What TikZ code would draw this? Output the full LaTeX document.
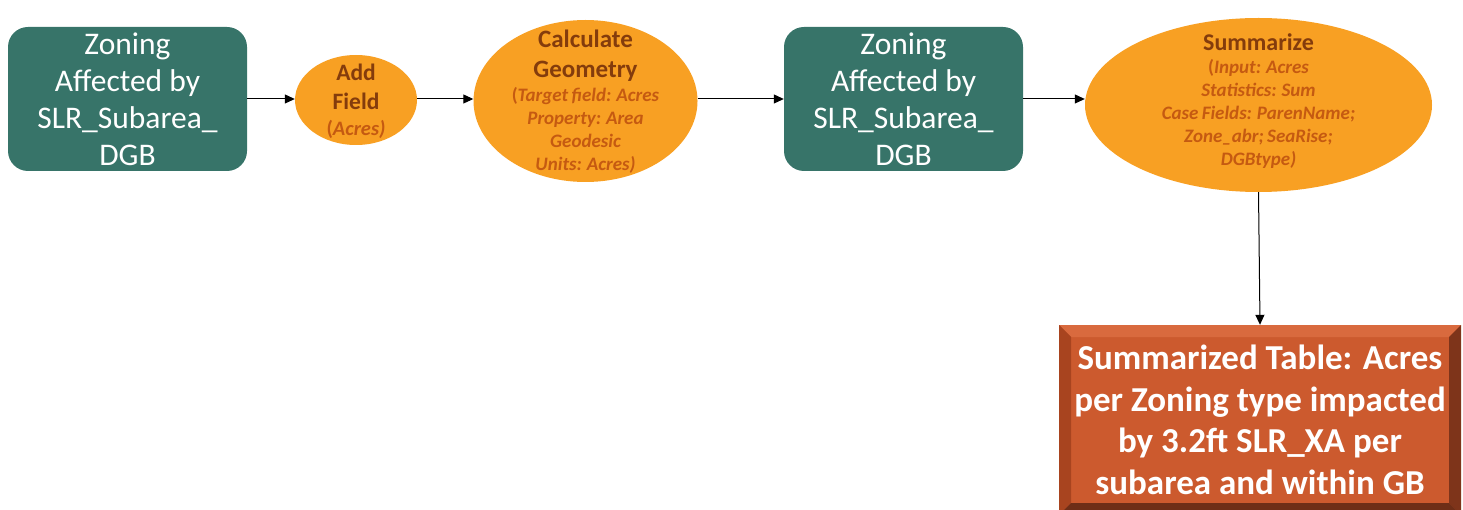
\documentclass[tikz,border=0pt]{standalone}
\usepackage{fontspec}
\setmainfont{Carlito}
\usetikzlibrary{shapes.geometric,arrows.meta}
\definecolor{tealbox}{HTML}{377469}
\definecolor{orangefill}{HTML}{F8A023}
\definecolor{brownhead}{HTML}{843C0C}
\definecolor{brownsub}{HTML}{C55A11}
\definecolor{rustface}{HTML}{CC5A2E}
\definecolor{rusttop}{HTML}{D96A3E}
\definecolor{rustleft}{HTML}{A8441F}
\definecolor{rustright}{HTML}{7E341A}
\definecolor{rustbottom}{HTML}{6E2E17}
\tikzset{
  databox/.style={draw=none, fill=tealbox, rounded corners=20pt, text=white,
    minimum width=239pt, minimum height=144pt, inner sep=0pt, align=center,
    font=\fontsize{31.5}{37}\selectfont},
  toolell/.style={ellipse, draw=none, fill=orangefill, inner sep=0pt},
  tooltext/.style={align=center, inner sep=0pt, text width=330pt},
  arr/.style={-{Triangle[length=10pt,width=9pt]}, line width=1pt, black},
}
\begin{document}
\begin{tikzpicture}[x=1pt,y=-1pt]
\useasboundingbox (0,0) rectangle (1463,510);

% input layer
\node[databox] (g1) at (127.5,99) {Zoning\\Affected by\\SLR\_Subarea\_\\DGB};

% Add Field
\node[toolell, minimum width=122pt, minimum height=90pt] (af) at (356,100) {};
\node[tooltext] (aft) at (356,101) {%
  {\fontsize{23.5}{29}\selectfont\color{brownhead}\bfseries Add\\Field\par}%
  {\fontsize{20.5}{26}\selectfont\color{brownsub}\bfseries(\itshape Acres)\par}};

% Calculate Geometry
\node[toolell, minimum width=224pt, minimum height=162pt] (cg) at (585.5,101) {};
\node[tooltext] (cgt) at (585.5,101.5) {%
  {\fontsize{25}{30}\selectfont\color{brownhead}\bfseries Calculate\\Geometry\par}%
  \vspace{1.5pt}%
  {\fontsize{19}{23}\selectfont\color{brownsub}\bfseries(\itshape Target field: Acres\\
   Property: Area\\Geodesic\\Units: Acres)\par}};

% output layer
\node[databox] (g2) at (903.5,99) {Zoning\\Affected by\\SLR\_Subarea\_\\DGB};

% Summarize
\node[toolell, minimum width=347pt, minimum height=174pt] (sm) at (1258.5,105) {};
\node[tooltext] (smt) at (1258.5,101) {%
  {\fontsize{24}{26}\selectfont\color{brownhead}\bfseries Summarize\par}%
  {\fontsize{19}{23}\selectfont\color{brownsub}\bfseries(\itshape Input: Acres\\
   Statistics: Sum\\Case Fields: ParenName;\\Zone\_abr; SeaRise;\\DGBtype)\par}};

% bevelled result table
\def\bx{1059}\def\by{325}\def\bX{1461}\def\bY{515}\def\bv{12}
\fill[rustface] (\bx,\by) rectangle (\bX,\bY);
\fill[rusttop] (\bx,\by) -- (\bX,\by) -- (\bX-\bv,\by+\bv) -- (\bx+\bv,\by+\bv) -- cycle;
\fill[rustleft] (\bx,\by) -- (\bx+\bv,\by+\bv) -- (\bx+\bv,\bY-\bv) -- (\bx,\bY) -- cycle;
\fill[rustright] (\bX,\by) -- (\bX,\bY) -- (\bX-\bv,\bY-\bv) -- (\bX-\bv,\by+\bv) -- cycle;
\fill[rustbottom] (\bx,\bY) -- (\bX,\bY) -- (\bX-\bv,\bY-\bv) -- (\bx+\bv,\bY-\bv) -- cycle;
\node[minimum width=402pt, minimum height=190pt, inner sep=0pt, align=center,
  text=white, font=\bfseries\fontsize{35}{41.5}\selectfont] (tb) at (1260,420)
  {Summarized Table: Acres\\per Zoning type impacted\\by 3.2ft SLR\_XA per\\subarea and within GB};

% connectors
\draw[arr] (g1.east) -- (g1.east -| af.west);
\draw[arr] (af.east |- g1.east) -- (g1.east -| cg.west);
\draw[arr] (cg.east |- g1.east) -- (g2.west);
\draw[arr] (g2.east) -- (g2.east -| sm.west);
\draw[arr] (sm.south) -- (tb.north);
\end{tikzpicture}
\end{document}
